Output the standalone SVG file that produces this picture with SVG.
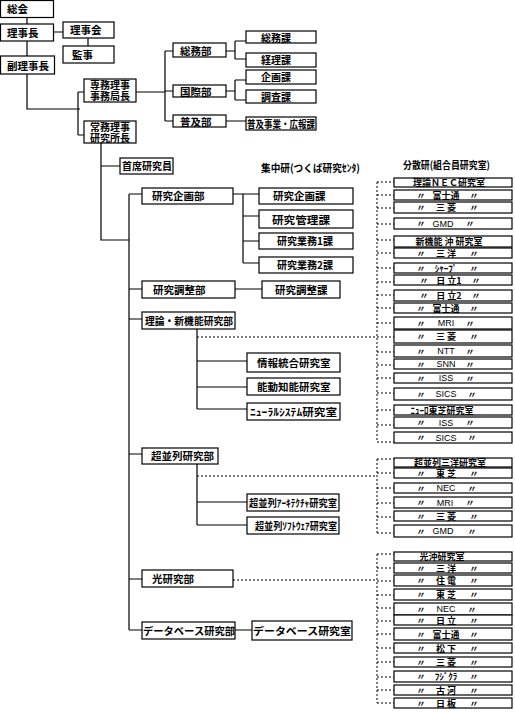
<svg xmlns="http://www.w3.org/2000/svg" width="515" height="712" viewBox="0 0 515 712">
<style>
.b{fill:#fff;stroke:#000;stroke-width:1.2}
.t{font-family:"Noto Sans CJK JP","Noto Sans CJK SC",sans-serif;font-weight:bold;font-size:10.5px;fill:#000}
.s{font-size:10px}
.r{font-size:9px;dominant-baseline:central}
.m{text-anchor:middle}
.l{font-family:"Liberation Sans",Arial,sans-serif;font-weight:normal}
.ln{stroke:#000;stroke-width:1.2;fill:none}
.ds{stroke:#000;stroke-width:1;stroke-dasharray:2 2;fill:none}
</style>
<rect width="515" height="712" fill="#fff"/>
<g id="connectors">
<path class="ln" d="M27 17V24M27 41V56M27 74V109H80M53 32H63M88 38V46M78 92V135M78 92H84M78 135H84"/>
<path class="ln" d="M136 92H165M165 51V121M165 51H173M165 91H173M165 121H173"/>
<path class="ln" d="M226 51H235M235 41V59M235 41H246M235 59H246M226 91H235M235 80V100M235 80H246M235 100H246M226 121H246"/>
<path class="ln" d="M101 143V240H129M101 166H120M129 194V630M129 194H142M129 289H142M129 319H142M129 454H142M129 579H142M129 630H142"/>
<path class="ln" d="M233 194H259M243 194V263M243 216H259M243 241H259M243 263H259M235 289H262"/>
<path class="ln" d="M197 329V409M197 361H247M197 387H247M197 409H247M197 464V525M197 502H247M197 525H247M235 630H252"/>
<path class="ds" d="M197 337H377M197 476H377M233 580H377"/>
<path class="ds" d="M377 182V442M377 459V533M377 554V703"/>
<path class="ds" d="M377 182H394M377 195H394M377 208H394M377 224H394M377 240H394M377 253H394M377 268H394M377 282H394M377 295H394M377 308H394M377 323H394M377 337H394M377 352H394M377 365H394M377 378H394M377 393H394M377 410H394M377 425H394M377 442H394"/>
<path class="ds" d="M377 459H394M377 473H394M377 488H394M377 503H394M377 517H394M377 533H394"/>
<path class="ds" d="M377 554H394M377 568H394M377 581H394M377 595H394M377 608H394M377 621H394M377 634H394M377 648H394M377 662H394M377 677H394M377 690H394M377 703H394"/>
</g>
<g id="n-soukai"><rect class="b" x="0.5" y="0.5" width="53" height="17"/><text class="t" x="7" y="13">総会</text></g>
<g id="n-rijicho"><rect class="b" x="0.5" y="24" width="53" height="17"/><text class="t" x="7" y="37">理事長</text></g>
<g id="n-rijikai"><rect class="b" x="63" y="22" width="51" height="16"/><text class="t" x="70" y="34">理事会</text></g>
<g id="n-kanji"><rect class="b" x="63" y="46" width="51" height="17"/><text class="t" x="72" y="59">監事</text></g>
<g id="n-fukurijicho"><rect class="b" x="0.5" y="56" width="54" height="18"/><text class="t" x="7" y="70">副理事長</text></g>
<g id="n-senmu"><rect class="b" x="84" y="79" width="52" height="23"/><text class="t s m" x="110" y="89">専務理事</text><text class="t s m" x="110" y="100">事務局長</text></g>
<g id="n-jomu"><rect class="b" x="84" y="121" width="52" height="22"/><text class="t s m" x="110" y="131">常務理事</text><text class="t s m" x="110" y="142">研究所長</text></g>
<g id="n-somubu"><rect class="b" x="173" y="43" width="53" height="14"/><text class="t" x="180" y="55">総務部</text></g>
<g id="n-kokusaibu"><rect class="b" x="173" y="85" width="53" height="12"/><text class="t" x="180" y="96">国際部</text></g>
<g id="n-fukyubu"><rect class="b" x="173" y="115" width="53" height="12"/><text class="t" x="180" y="126">普及部</text></g>
<g id="n-somuka"><rect class="b" x="246" y="31" width="70" height="12"/><text class="t s m" x="276" y="41.5">総務課</text></g>
<g id="n-keirika"><rect class="b" x="246" y="53" width="70" height="14"/><text class="t s m" x="276" y="64">経理課</text></g>
<g id="n-kikakuka"><rect class="b" x="246" y="70" width="70" height="14"/><text class="t s m" x="276" y="81">企画課</text></g>
<g id="n-chosaka"><rect class="b" x="246" y="90" width="70" height="13"/><text class="t s m" x="276" y="101">調査課</text></g>
<g id="n-fukyujigyo"><rect class="b" x="246" y="117" width="70" height="13"/><text class="t s" x="247" y="128" textLength="68" lengthAdjust="spacingAndGlyphs">普及事業・広報課</text></g>
<g id="n-shuseki"><rect class="b" x="120" y="158" width="53" height="16"/><text class="t" x="122" y="170" textLength="50" lengthAdjust="spacingAndGlyphs">首席研究員</text></g>
<g id="h-shuchu"><text class="t" x="261" y="172" textLength="99" lengthAdjust="spacingAndGlyphs">集中研(つくば研究ｾﾝﾀ)</text></g>
<g id="h-bunsan"><text class="t" x="403" y="169" textLength="87" lengthAdjust="spacingAndGlyphs">分散研(組合員研究室)</text></g>
<g id="n-kenkyukikakubu"><rect class="b" x="142" y="188" width="91" height="16"/><text class="t" x="152" y="200">研究企画部</text></g>
<g id="n-kenkyukikakuka"><rect class="b" x="259" y="188" width="94" height="16"/><text class="t" x="273" y="200">研究企画課</text></g>
<g id="n-kenkyukanrika"><rect class="b" x="259" y="210" width="94" height="18"/><text class="t" x="272" y="224" textLength="58" lengthAdjust="spacingAndGlyphs">研究管理課</text></g>
<g id="n-gyomu1"><rect class="b" x="259" y="233" width="94" height="16"/><text class="t" x="277" y="245" textLength="56" lengthAdjust="spacingAndGlyphs">研究業務1課</text></g>
<g id="n-gyomu2"><rect class="b" x="259" y="257" width="94" height="16"/><text class="t" x="277" y="269" textLength="56" lengthAdjust="spacingAndGlyphs">研究業務2課</text></g>
<g id="n-choseibu"><rect class="b" x="142" y="281" width="93" height="17"/><text class="t" x="153" y="294">研究調整部</text></g>
<g id="n-choseika"><rect class="b" x="262" y="281" width="78" height="17"/><text class="t" x="275" y="294">研究調整課</text></g>
<g id="n-rironbu"><rect class="b" x="142" y="312" width="93" height="17"/><text class="t" x="145" y="325" textLength="88" lengthAdjust="spacingAndGlyphs">理論・新機能研究部</text></g>
<g id="n-johotogo"><rect class="b" x="247" y="353" width="93" height="19"/><text class="t" x="257" y="367">情報統合研究室</text></g>
<g id="n-nodochino"><rect class="b" x="247" y="378" width="93" height="17"/><text class="t" x="257" y="391">能動知能研究室</text></g>
<g id="n-neural"><rect class="b" x="247" y="403" width="93" height="17"/><text class="t" x="250" y="416" textLength="87" lengthAdjust="spacingAndGlyphs">ﾆｭｰﾗﾙｼｽﾃﾑ研究室</text></g>
<g id="n-choheiretsubu"><rect class="b" x="142" y="448" width="76" height="16"/><text class="t" x="151" y="460">超並列研究部</text></g>
<g id="n-architecture"><rect class="b" x="247" y="494" width="92" height="17"/><text class="t" x="249" y="507" textLength="88" lengthAdjust="spacingAndGlyphs">超並列ｱｰｷﾃｸﾁｬ研究室</text></g>
<g id="n-software"><rect class="b" x="247" y="517" width="92" height="17"/><text class="t" x="255" y="530" textLength="82" lengthAdjust="spacingAndGlyphs">超並列ｿﾌﾄｳｪｱ研究室</text></g>
<g id="n-hikaribu"><rect class="b" x="142" y="570" width="91" height="17"/><text class="t" x="152" y="583">光研究部</text></g>
<g id="n-dbbu"><rect class="b" x="142" y="622" width="93" height="17"/><text class="t" x="143" y="635" textLength="92" lengthAdjust="spacingAndGlyphs">データベース研究部</text></g>
<g id="n-dbshitsu"><rect class="b" x="252" y="621" width="100" height="19"/><text class="t" x="253" y="635" textLength="98" lengthAdjust="spacingAndGlyphs">データベース研究室</text></g>
<g id="a1"><rect class="b" x="394" y="178" width="118" height="9"/><text class="t r m" x="449" y="182.8">理論ＮＥＣ研究室</text></g>
<g id="a2"><rect class="b" x="394" y="190" width="118" height="10"/><text class="t r m" x="421" y="195.3">〃</text><text class="t r m" x="446" y="195.3">富士通</text><text class="t r m" x="474" y="195.3">〃</text></g>
<g id="a3"><rect class="b" x="394" y="202" width="118" height="11"/><text class="t r m" x="421" y="207.8">〃</text><text class="t r m" x="446" y="207.8">三 菱</text><text class="t r m" x="474" y="207.8">〃</text></g>
<g id="a4"><rect class="b" x="394" y="218" width="118" height="11"/><text class="t r m" x="421" y="223.8">〃</text><text class="t r m l" x="443" y="223.8">GMD</text><text class="t r m" x="470" y="223.8">〃</text></g>
<g id="a5"><rect class="b" x="394" y="236" width="118" height="11"/><text class="t r m" x="449" y="241.8">新機能 沖 研究室</text></g>
<g id="a6"><rect class="b" x="394" y="248" width="118" height="10"/><text class="t r m" x="421" y="253.3">〃</text><text class="t r m" x="446" y="253.3">三 洋</text><text class="t r m" x="474" y="253.3">〃</text></g>
<g id="a7"><rect class="b" x="394" y="263" width="118" height="10"/><text class="t r m" x="421" y="268.3">〃</text><text class="t r m" x="446" y="268.3">ｼｬｰﾌﾟ</text><text class="t r m" x="474" y="268.3">〃</text></g>
<g id="a8"><rect class="b" x="394" y="275" width="118" height="10"/><text class="t r m" x="424" y="280.3">〃</text><text class="t r m" x="449" y="280.3">日 立1</text><text class="t r m" x="476" y="280.3">〃</text></g>
<g id="a9"><rect class="b" x="394" y="290" width="118" height="11"/><text class="t r m" x="424" y="295.8">〃</text><text class="t r m" x="449" y="295.8">日 立2</text><text class="t r m" x="476" y="295.8">〃</text></g>
<g id="a10"><rect class="b" x="394" y="303" width="118" height="10"/><text class="t r m" x="421" y="308.3">〃</text><text class="t r m" x="446" y="308.3">富士通</text><text class="t r m" x="474" y="308.3">〃</text></g>
<g id="a11"><rect class="b" x="394" y="317" width="118" height="12"/><text class="t r m" x="421" y="323.3">〃</text><text class="t r m l" x="446" y="323.3">MRI</text><text class="t r m" x="470" y="323.3">〃</text></g>
<g id="a12"><rect class="b" x="394" y="330" width="118" height="13"/><text class="t r m" x="421" y="336.8">〃</text><text class="t r m" x="446" y="336.8">三 菱</text><text class="t r m" x="474" y="336.8">〃</text></g>
<g id="a13"><rect class="b" x="394" y="345" width="118" height="12"/><text class="t r m" x="421" y="351.3">〃</text><text class="t r m l" x="446" y="351.3">NTT</text><text class="t r m" x="470" y="351.3">〃</text></g>
<g id="a14"><rect class="b" x="394" y="359" width="118" height="10"/><text class="t r m" x="421" y="364.3">〃</text><text class="t r m l" x="446" y="364.3">SNN</text><text class="t r m" x="470" y="364.3">〃</text></g>
<g id="a15"><rect class="b" x="394" y="373" width="118" height="10"/><text class="t r m" x="421" y="378.3">〃</text><text class="t r m l" x="446" y="378.3">ISS</text><text class="t r m" x="470" y="378.3">〃</text></g>
<g id="a16"><rect class="b" x="394" y="388" width="118" height="12"/><text class="t r m" x="421" y="394.3">〃</text><text class="t r m l" x="446" y="394.3">SICS</text><text class="t r m" x="472" y="394.3">〃</text></g>
<g id="a17"><rect class="b" x="394" y="405" width="118" height="10"/><text class="t r m" x="442" y="410.3">ﾆｭｰﾛ東芝研究室</text></g>
<g id="a18"><rect class="b" x="394" y="417" width="118" height="11"/><text class="t r m" x="421" y="422.8">〃</text><text class="t r m l" x="446" y="422.8">ISS</text><text class="t r m" x="470" y="422.8">〃</text></g>
<g id="a19"><rect class="b" x="394" y="432" width="118" height="11"/><text class="t r m" x="421" y="437.8">〃</text><text class="t r m l" x="446" y="437.8">SICS</text><text class="t r m" x="472" y="437.8">〃</text></g>
<g id="b1"><rect class="b" x="394" y="458" width="118" height="9"/><text class="t r m" x="450" y="462.8">超並列三洋研究室</text></g>
<g id="b2"><rect class="b" x="394" y="468" width="118" height="10"/><text class="t r m" x="421" y="473.3">〃</text><text class="t r m" x="446" y="473.3">東 芝</text><text class="t r m" x="474" y="473.3">〃</text></g>
<g id="b3"><rect class="b" x="394" y="483" width="118" height="10"/><text class="t r m" x="421" y="488.3">〃</text><text class="t r m l" x="446" y="488.3">NEC</text><text class="t r m" x="472" y="488.3">〃</text></g>
<g id="b4"><rect class="b" x="394" y="497" width="118" height="11"/><text class="t r m" x="421" y="502.8">〃</text><text class="t r m l" x="445" y="502.8">MRI</text><text class="t r m" x="470" y="502.8">〃</text></g>
<g id="b5"><rect class="b" x="394" y="511" width="118" height="10"/><text class="t r m" x="421" y="516.3">〃</text><text class="t r m" x="446" y="516.3">三 菱</text><text class="t r m" x="474" y="516.3">〃</text></g>
<g id="b6"><rect class="b" x="394" y="525" width="118" height="12"/><text class="t r m" x="421" y="531.3">〃</text><text class="t r m l" x="443" y="531.3">GMD</text><text class="t r m" x="472" y="531.3">〃</text></g>
<g id="c1"><rect class="b" x="394" y="552" width="118" height="9"/><text class="t r m" x="442" y="556.8">光沖研究室</text></g>
<g id="c2"><rect class="b" x="394" y="563" width="118" height="10"/><text class="t r m" x="421" y="568.3">〃</text><text class="t r m" x="446" y="568.3">三 洋</text><text class="t r m" x="474" y="568.3">〃</text></g>
<g id="c3"><rect class="b" x="394" y="575" width="118" height="11"/><text class="t r m" x="421" y="580.8">〃</text><text class="t r m" x="446" y="580.8">住 電</text><text class="t r m" x="474" y="580.8">〃</text></g>
<g id="c4"><rect class="b" x="394" y="589" width="118" height="11"/><text class="t r m" x="421" y="594.8">〃</text><text class="t r m" x="446" y="594.8">東 芝</text><text class="t r m" x="474" y="594.8">〃</text></g>
<g id="c5"><rect class="b" x="394" y="603" width="118" height="12"/><text class="t r m" x="421" y="609.3">〃</text><text class="t r m l" x="446" y="609.3">NEC</text><text class="t r m" x="472" y="609.3">〃</text></g>
<g id="c6"><rect class="b" x="394" y="615" width="118" height="10"/><text class="t r m" x="421" y="620.3">〃</text><text class="t r m" x="446" y="620.3">日 立</text><text class="t r m" x="474" y="620.3">〃</text></g>
<g id="c7"><rect class="b" x="394" y="628" width="118" height="12"/><text class="t r m" x="421" y="634.3">〃</text><text class="t r m" x="446" y="634.3">富士通</text><text class="t r m" x="474" y="634.3">〃</text></g>
<g id="c8"><rect class="b" x="394" y="643" width="118" height="10"/><text class="t r m" x="421" y="648.3">〃</text><text class="t r m" x="446" y="648.3">松 下</text><text class="t r m" x="474" y="648.3">〃</text></g>
<g id="c9"><rect class="b" x="394" y="657" width="118" height="10"/><text class="t r m" x="421" y="662.3">〃</text><text class="t r m" x="446" y="662.3">三 菱</text><text class="t r m" x="474" y="662.3">〃</text></g>
<g id="c10"><rect class="b" x="394" y="671" width="118" height="11"/><text class="t r m" x="421" y="676.8">〃</text><text class="t r m" x="446" y="676.8">ﾌｼﾞｸﾗ</text><text class="t r m" x="474" y="676.8">〃</text></g>
<g id="c11"><rect class="b" x="394" y="685" width="118" height="10"/><text class="t r m" x="421" y="690.3">〃</text><text class="t r m" x="446" y="690.3">古 河</text><text class="t r m" x="474" y="690.3">〃</text></g>
<g id="c12"><rect class="b" x="394" y="698" width="118" height="10"/><text class="t r m" x="421" y="703.3">〃</text><text class="t r m" x="446" y="703.3">日 板</text><text class="t r m" x="474" y="703.3">〃</text></g>
</svg>
